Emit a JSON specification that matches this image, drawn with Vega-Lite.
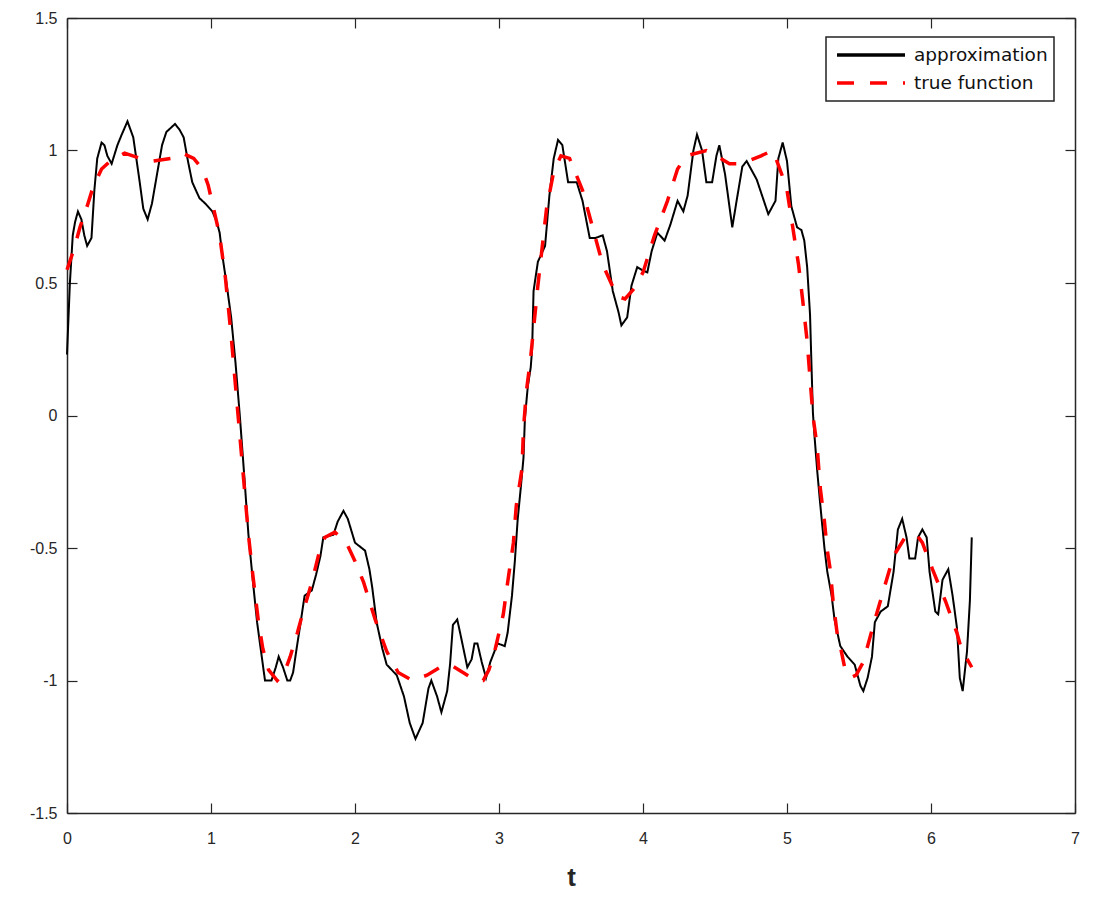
{
  "$schema": "https://vega.github.io/schema/vega-lite/v6.json",
  "width": 1008,
  "height": 795,
  "autosize": {"type": "none"},
  "padding": {"left": 67, "top": 18, "right": 31, "bottom": 91},
  "background": "white",
  "config": {
    "view": {"stroke": null},
    "font": "Liberation Sans",
    "axis": {
      "grid": false,
      "domainColor": "#262626",
      "domainWidth": 1.5,
      "tickColor": "#262626",
      "tickWidth": 1.2,
      "tickSize": -10,
      "labelColor": "#262626",
      "labelFont": "Liberation Sans",
      "labelFontSize": 16,
      "labelFlush": false
    },
    "legend": {
      "orient": "none",
      "legendX": 759,
      "legendY": 19,
      "strokeColor": "#222222",
      "strokeWidth": 1.5,
      "fillColor": "white",
      "padding": 6,
      "symbolType": "stroke",
      "symbolSize": 4624,
      "symbolStrokeWidth": 3.5,
      "symbolOffset": 3,
      "clipHeight": 24,
      "labelFont": "DejaVu Sans",
      "labelFontSize": 18.5,
      "labelColor": "#111111",
      "labelOffset": 7,
      "rowPadding": 4
    }
  },
  "datasets": {
    "approx": [
      {"t": 0.0, "v": 0.23}, {"t": 0.02, "v": 0.5}, {"t": 0.04, "v": 0.68}, {"t": 0.056, "v": 0.73},
      {"t": 0.076, "v": 0.77}, {"t": 0.1, "v": 0.74}, {"t": 0.12, "v": 0.68}, {"t": 0.14, "v": 0.64},
      {"t": 0.17, "v": 0.67}, {"t": 0.19, "v": 0.85}, {"t": 0.21, "v": 0.97}, {"t": 0.24, "v": 1.03},
      {"t": 0.26, "v": 1.02}, {"t": 0.28, "v": 0.98}, {"t": 0.31, "v": 0.95}, {"t": 0.35, "v": 1.02},
      {"t": 0.38, "v": 1.06}, {"t": 0.42, "v": 1.11}, {"t": 0.46, "v": 1.05}, {"t": 0.5, "v": 0.9},
      {"t": 0.53, "v": 0.78}, {"t": 0.56, "v": 0.74}, {"t": 0.59, "v": 0.8}, {"t": 0.625, "v": 0.91},
      {"t": 0.66, "v": 1.02}, {"t": 0.69, "v": 1.07}, {"t": 0.75, "v": 1.1}, {"t": 0.78, "v": 1.08},
      {"t": 0.81, "v": 1.05}, {"t": 0.84, "v": 0.96}, {"t": 0.87, "v": 0.88}, {"t": 0.92, "v": 0.82},
      {"t": 0.96, "v": 0.8}, {"t": 1.01, "v": 0.77}, {"t": 1.04, "v": 0.73}, {"t": 1.06, "v": 0.69},
      {"t": 1.08, "v": 0.6}, {"t": 1.11, "v": 0.49}, {"t": 1.14, "v": 0.37}, {"t": 1.17, "v": 0.2},
      {"t": 1.2, "v": 0.0}, {"t": 1.23, "v": -0.22}, {"t": 1.26, "v": -0.45}, {"t": 1.29, "v": -0.62},
      {"t": 1.32, "v": -0.78}, {"t": 1.35, "v": -0.9}, {"t": 1.375, "v": -1.0}, {"t": 1.42, "v": -1.0},
      {"t": 1.45, "v": -0.95}, {"t": 1.47, "v": -0.91}, {"t": 1.5, "v": -0.95}, {"t": 1.53, "v": -1.0},
      {"t": 1.55, "v": -1.0}, {"t": 1.57, "v": -0.97}, {"t": 1.6, "v": -0.86}, {"t": 1.62, "v": -0.79},
      {"t": 1.65, "v": -0.68}, {"t": 1.7, "v": -0.66}, {"t": 1.73, "v": -0.6}, {"t": 1.76, "v": -0.53},
      {"t": 1.78, "v": -0.46}, {"t": 1.85, "v": -0.45}, {"t": 1.88, "v": -0.4}, {"t": 1.92, "v": -0.36},
      {"t": 1.95, "v": -0.39}, {"t": 2.0, "v": -0.48}, {"t": 2.07, "v": -0.51}, {"t": 2.1, "v": -0.58},
      {"t": 2.12, "v": -0.65}, {"t": 2.15, "v": -0.78}, {"t": 2.19, "v": -0.88}, {"t": 2.22, "v": -0.94},
      {"t": 2.29, "v": -0.98}, {"t": 2.34, "v": -1.06}, {"t": 2.38, "v": -1.16}, {"t": 2.42, "v": -1.22},
      {"t": 2.47, "v": -1.16}, {"t": 2.51, "v": -1.03}, {"t": 2.53, "v": -1.0}, {"t": 2.57, "v": -1.06},
      {"t": 2.6, "v": -1.12}, {"t": 2.64, "v": -1.04}, {"t": 2.66, "v": -0.94}, {"t": 2.68, "v": -0.79},
      {"t": 2.71, "v": -0.77}, {"t": 2.73, "v": -0.82}, {"t": 2.78, "v": -0.95}, {"t": 2.81, "v": -0.92},
      {"t": 2.83, "v": -0.86}, {"t": 2.85, "v": -0.86}, {"t": 2.88, "v": -0.93}, {"t": 2.91, "v": -0.99},
      {"t": 2.94, "v": -0.93}, {"t": 2.99, "v": -0.86}, {"t": 3.04, "v": -0.87}, {"t": 3.06, "v": -0.82},
      {"t": 3.09, "v": -0.68}, {"t": 3.11, "v": -0.55}, {"t": 3.13, "v": -0.39}, {"t": 3.15, "v": -0.28},
      {"t": 3.17, "v": -0.16}, {"t": 3.18, "v": -0.01}, {"t": 3.2, "v": 0.11}, {"t": 3.22, "v": 0.18},
      {"t": 3.23, "v": 0.25}, {"t": 3.24, "v": 0.47}, {"t": 3.27, "v": 0.58}, {"t": 3.32, "v": 0.64},
      {"t": 3.35, "v": 0.83}, {"t": 3.38, "v": 0.97}, {"t": 3.41, "v": 1.04}, {"t": 3.44, "v": 1.02},
      {"t": 3.48, "v": 0.88}, {"t": 3.54, "v": 0.88}, {"t": 3.58, "v": 0.81}, {"t": 3.63, "v": 0.67},
      {"t": 3.67, "v": 0.67}, {"t": 3.72, "v": 0.68}, {"t": 3.75, "v": 0.62}, {"t": 3.79, "v": 0.47},
      {"t": 3.83, "v": 0.39}, {"t": 3.85, "v": 0.34}, {"t": 3.89, "v": 0.37}, {"t": 3.92, "v": 0.49},
      {"t": 3.96, "v": 0.56}, {"t": 3.99, "v": 0.55}, {"t": 4.03, "v": 0.54}, {"t": 4.06, "v": 0.62},
      {"t": 4.1, "v": 0.69}, {"t": 4.15, "v": 0.66}, {"t": 4.19, "v": 0.72}, {"t": 4.24, "v": 0.81},
      {"t": 4.28, "v": 0.77}, {"t": 4.31, "v": 0.83}, {"t": 4.35, "v": 1.0}, {"t": 4.375, "v": 1.06},
      {"t": 4.41, "v": 1.0}, {"t": 4.44, "v": 0.88}, {"t": 4.48, "v": 0.88}, {"t": 4.51, "v": 0.98},
      {"t": 4.53, "v": 1.02}, {"t": 4.57, "v": 0.91}, {"t": 4.62, "v": 0.71}, {"t": 4.65, "v": 0.81},
      {"t": 4.69, "v": 0.94}, {"t": 4.72, "v": 0.96}, {"t": 4.79, "v": 0.89}, {"t": 4.87, "v": 0.76},
      {"t": 4.92, "v": 0.81}, {"t": 4.94, "v": 0.97}, {"t": 4.97, "v": 1.03}, {"t": 5.0, "v": 0.96},
      {"t": 5.03, "v": 0.79}, {"t": 5.07, "v": 0.71}, {"t": 5.1, "v": 0.7}, {"t": 5.12, "v": 0.66},
      {"t": 5.14, "v": 0.56}, {"t": 5.16, "v": 0.38}, {"t": 5.17, "v": 0.19}, {"t": 5.18, "v": 0.01},
      {"t": 5.19, "v": -0.07}, {"t": 5.21, "v": -0.21}, {"t": 5.23, "v": -0.33}, {"t": 5.26, "v": -0.5},
      {"t": 5.28, "v": -0.59}, {"t": 5.31, "v": -0.68}, {"t": 5.33, "v": -0.77}, {"t": 5.37, "v": -0.87},
      {"t": 5.42, "v": -0.91}, {"t": 5.47, "v": -0.94}, {"t": 5.51, "v": -1.02}, {"t": 5.53, "v": -1.04},
      {"t": 5.56, "v": -0.99}, {"t": 5.59, "v": -0.91}, {"t": 5.61, "v": -0.78}, {"t": 5.65, "v": -0.74},
      {"t": 5.7, "v": -0.72}, {"t": 5.74, "v": -0.59}, {"t": 5.77, "v": -0.43}, {"t": 5.8, "v": -0.39},
      {"t": 5.83, "v": -0.46}, {"t": 5.85, "v": -0.54}, {"t": 5.89, "v": -0.54}, {"t": 5.91, "v": -0.46},
      {"t": 5.94, "v": -0.43}, {"t": 5.97, "v": -0.46}, {"t": 5.99, "v": -0.59}, {"t": 6.03, "v": -0.74},
      {"t": 6.05, "v": -0.75}, {"t": 6.08, "v": -0.62}, {"t": 6.12, "v": -0.58}, {"t": 6.15, "v": -0.68},
      {"t": 6.18, "v": -0.8}, {"t": 6.2, "v": -0.99}, {"t": 6.22, "v": -1.04}, {"t": 6.25, "v": -0.89},
      {"t": 6.27, "v": -0.7}, {"t": 6.283, "v": -0.46}
    ],
    "truef": [
      {"t": 0.0, "v": 0.55}, {"t": 0.05, "v": 0.63}, {"t": 0.09, "v": 0.71}, {"t": 0.14, "v": 0.79},
      {"t": 0.18, "v": 0.86}, {"t": 0.24, "v": 0.93}, {"t": 0.3, "v": 0.96}, {"t": 0.4, "v": 0.99},
      {"t": 0.51, "v": 0.97}, {"t": 0.6, "v": 0.96}, {"t": 0.72, "v": 0.97}, {"t": 0.8, "v": 0.99},
      {"t": 0.88, "v": 0.97}, {"t": 0.94, "v": 0.93}, {"t": 0.98, "v": 0.87}, {"t": 1.01, "v": 0.8},
      {"t": 1.06, "v": 0.68}, {"t": 1.1, "v": 0.52}, {"t": 1.14, "v": 0.3}, {"t": 1.18, "v": 0.05},
      {"t": 1.22, "v": -0.2}, {"t": 1.26, "v": -0.45}, {"t": 1.29, "v": -0.6}, {"t": 1.33, "v": -0.78},
      {"t": 1.36, "v": -0.88}, {"t": 1.4, "v": -0.96}, {"t": 1.46, "v": -1.0}, {"t": 1.51, "v": -0.97},
      {"t": 1.55, "v": -0.91}, {"t": 1.6, "v": -0.82}, {"t": 1.64, "v": -0.74}, {"t": 1.7, "v": -0.63},
      {"t": 1.75, "v": -0.52}, {"t": 1.79, "v": -0.46}, {"t": 1.86, "v": -0.44}, {"t": 1.94, "v": -0.48},
      {"t": 2.0, "v": -0.55}, {"t": 2.06, "v": -0.63}, {"t": 2.14, "v": -0.77}, {"t": 2.22, "v": -0.89},
      {"t": 2.3, "v": -0.97}, {"t": 2.4, "v": -1.0}, {"t": 2.5, "v": -0.98}, {"t": 2.59, "v": -0.95},
      {"t": 2.66, "v": -0.94}, {"t": 2.75, "v": -0.97}, {"t": 2.84, "v": -1.0}, {"t": 2.89, "v": -1.0},
      {"t": 2.93, "v": -0.96}, {"t": 2.97, "v": -0.89}, {"t": 3.03, "v": -0.75}, {"t": 3.06, "v": -0.63},
      {"t": 3.1, "v": -0.48}, {"t": 3.12, "v": -0.34}, {"t": 3.16, "v": -0.2}, {"t": 3.17, "v": -0.05},
      {"t": 3.19, "v": 0.09}, {"t": 3.22, "v": 0.22}, {"t": 3.27, "v": 0.49}, {"t": 3.33, "v": 0.78},
      {"t": 3.38, "v": 0.92}, {"t": 3.43, "v": 0.98}, {"t": 3.49, "v": 0.97}, {"t": 3.58, "v": 0.85},
      {"t": 3.65, "v": 0.71}, {"t": 3.72, "v": 0.57}, {"t": 3.82, "v": 0.45}, {"t": 3.875, "v": 0.44},
      {"t": 3.94, "v": 0.48}, {"t": 4.0, "v": 0.54}, {"t": 4.08, "v": 0.68}, {"t": 4.17, "v": 0.81},
      {"t": 4.24, "v": 0.93}, {"t": 4.3, "v": 0.98}, {"t": 4.44, "v": 1.0}, {"t": 4.51, "v": 0.98},
      {"t": 4.6, "v": 0.95}, {"t": 4.67, "v": 0.95}, {"t": 4.73, "v": 0.96}, {"t": 4.82, "v": 0.98},
      {"t": 4.9, "v": 1.0}, {"t": 4.93, "v": 0.96}, {"t": 4.97, "v": 0.9}, {"t": 5.0, "v": 0.85},
      {"t": 5.04, "v": 0.71}, {"t": 5.08, "v": 0.57}, {"t": 5.11, "v": 0.43}, {"t": 5.14, "v": 0.28},
      {"t": 5.16, "v": 0.14}, {"t": 5.18, "v": 0.0}, {"t": 5.21, "v": -0.12}, {"t": 5.23, "v": -0.27},
      {"t": 5.26, "v": -0.4}, {"t": 5.28, "v": -0.51}, {"t": 5.3, "v": -0.58}, {"t": 5.32, "v": -0.7},
      {"t": 5.35, "v": -0.83}, {"t": 5.37, "v": -0.87}, {"t": 5.4, "v": -0.95}, {"t": 5.44, "v": -0.99},
      {"t": 5.48, "v": -0.98}, {"t": 5.53, "v": -0.93}, {"t": 5.6, "v": -0.79}, {"t": 5.67, "v": -0.66},
      {"t": 5.74, "v": -0.53}, {"t": 5.82, "v": -0.46}, {"t": 5.9, "v": -0.45}, {"t": 5.94, "v": -0.48},
      {"t": 6.01, "v": -0.58}, {"t": 6.1, "v": -0.7}, {"t": 6.18, "v": -0.82}, {"t": 6.21, "v": -0.88},
      {"t": 6.283, "v": -0.95}
    ]
  },
  "layer": [
    {
      "data": {"name": "approx"},
      "transform": [{"calculate": "'approximation'", "as": "series"}],
      "mark": {"type": "line", "strokeWidth": 2, "interpolate": "linear"},
      "encoding": {
        "x": {
          "field": "t", "type": "quantitative",
          "scale": {"domain": [0, 7], "nice": false, "zero": false},
          "axis": {
            "orient": "bottom", "values": [0, 1, 2, 3, 4, 5, 6, 7],
            "labelExpr": "datum.value", "labelPadding": 27,
            "title": "t", "titleFontSize": 26, "titleFontWeight": "bold",
            "titleColor": "#262626", "titlePadding": 18, "titleFont": "Liberation Sans"
          }
        },
        "y": {
          "field": "v", "type": "quantitative",
          "scale": {"domain": [-1.5, 1.5], "nice": false, "zero": false},
          "axis": {
            "orient": "left", "values": [-1.5, -1, -0.5, 0, 0.5, 1, 1.5],
            "labelExpr": "datum.value", "labelPadding": 20, "title": null
          }
        },
        "color": {
          "field": "series", "type": "nominal",
          "scale": {"domain": ["approximation", "true function"], "range": ["#000000", "#ff0000"]},
          "legend": {"title": null}
        },
        "strokeDash": {
          "field": "series", "type": "nominal",
          "scale": {"domain": ["approximation", "true function"], "range": [[1, 0], [17, 16]]},
          "legend": {"title": null}
        }
      }
    },
    {
      "data": {"name": "truef"},
      "transform": [{"calculate": "'true function'", "as": "series"}],
      "mark": {"type": "line", "strokeWidth": 3.5, "interpolate": "linear"},
      "encoding": {
        "x": {
          "field": "t", "type": "quantitative",
          "axis": {
            "orient": "top", "values": [0, 1, 2, 3, 4, 5, 6, 7],
            "labels": false, "title": null
          }
        },
        "y": {
          "field": "v", "type": "quantitative",
          "axis": {
            "orient": "right", "values": [-1.5, -1, -0.5, 0, 0.5, 1, 1.5],
            "labels": false, "title": null
          }
        },
        "color": {
          "field": "series", "type": "nominal",
          "scale": {"domain": ["approximation", "true function"], "range": ["#000000", "#ff0000"]},
          "legend": {"title": null}
        },
        "strokeDash": {
          "field": "series", "type": "nominal",
          "scale": {"domain": ["approximation", "true function"], "range": [[1, 0], [17, 16]]},
          "legend": {"title": null}
        }
      }
    }
  ],
  "resolve": {"axis": {"x": "independent", "y": "independent"}}
}
